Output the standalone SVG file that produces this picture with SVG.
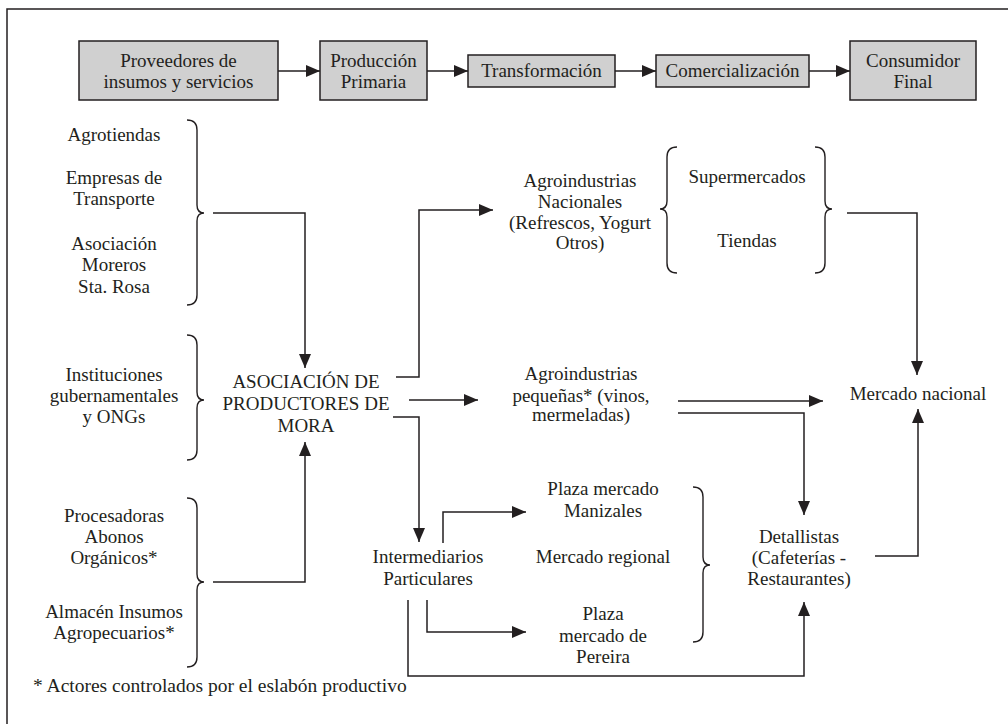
<svg xmlns="http://www.w3.org/2000/svg" width="1008" height="724" viewBox="0 0 1008 724" font-family="'Liberation Serif', 'Times New Roman', Times, 'DejaVu Serif', serif">
<defs>
<style>
text{font-family:'Liberation Serif','Times New Roman',Times,'DejaVu Serif',serif;font-size:19px;fill:#231f20;text-anchor:middle}
.box{fill:#d0d0d0;stroke:#231f20;stroke-width:1.5}
.ln{fill:none;stroke:#231f20;stroke-width:1.5}
.br{fill:none;stroke:#231f20;stroke-width:1.4}
</style>
<marker id="ah" markerUnits="userSpaceOnUse" markerWidth="14" markerHeight="12" refX="14" refY="6" orient="auto">
<path d="M0,0 L14,6 L0,12 z" fill="#231f20"/>
</marker>
</defs>
<rect width="1008" height="724" fill="#fff"/>
<path class="ln" d="M7,724 V9 H1008"/>

<g id="n-proveedores"><rect class="box" x="79" y="41" width="199" height="59"/><text x="178.5" y="67">Proveedores de</text><text x="178.5" y="88">insumos y servicios</text></g>
<g id="n-produccion"><rect class="box" x="320" y="41" width="107" height="59"/><text x="373.5" y="67">Producción</text><text x="373.5" y="88">Primaria</text></g>
<g id="n-transformacion"><rect class="box" x="468" y="55" width="147" height="32"/><text x="541.5" y="77">Transformación</text></g>
<g id="n-comercializacion"><rect class="box" x="656" y="55" width="153" height="32"/><text x="732.5" y="77">Comercialización</text></g>
<g id="n-consumidor"><rect class="box" x="850" y="41" width="126" height="59"/><text x="913" y="67">Consumidor</text><text x="913" y="88">Final</text></g>

<g id="n-grupo1"><text x="114" y="141">Agrotiendas</text><text x="114" y="184">Empresas de</text><text x="114" y="205">Transporte</text><text x="114" y="250">Asociación</text><text x="114" y="271">Moreros</text><text x="114" y="293">Sta. Rosa</text>
<path class="br" d="M187,120 Q197,120 197,130 V205 Q197,213 204,213 Q197,213 197,221 V295 Q197,305 187,305"/></g>
<g id="n-grupo2"><text x="114" y="381">Instituciones</text><text x="114" y="402">gubernamentales</text><text x="114" y="423">y ONGs</text>
<path class="br" d="M187,335 Q197,335 197,345 V392 Q197,400 204,400 Q197,400 197,408 V450 Q197,460 187,460"/></g>
<g id="n-grupo3"><text x="114" y="522">Procesadoras</text><text x="114" y="543">Abonos</text><text x="114" y="564">Orgánicos*</text><text x="114" y="618">Almacén Insumos</text><text x="114" y="639">Agropecuarios*</text>
<path class="br" d="M187,498 Q197,498 197,508 V574 Q197,582 204,582 Q197,582 197,590 V657 Q197,667 187,667"/></g>

<g id="n-asociacion"><text x="306" y="388">ASOCIACIÓN DE</text><text x="306" y="410">PRODUCTORES DE</text><text x="306" y="432">MORA</text></g>

<g id="n-agro-nacionales"><text x="580" y="187">Agroindustrias</text><text x="580" y="208">Nacionales</text><text x="580" y="229">(Refrescos, Yogurt</text><text x="580" y="249">Otros)</text></g>
<g id="n-super"><text x="747" y="183">Supermercados</text><text x="747" y="247">Tiendas</text>
<path class="br" d="M677,147 Q667,147 667,157 V201 Q667,209 660,209 Q667,209 667,217 V263 Q667,273 677,273"/>
<path class="br" d="M815,147 Q825,147 825,157 V201 Q825,209 832,209 Q825,209 825,217 V263 Q825,273 815,273"/></g>
<g id="n-agro-pequenas"><text x="581" y="380">Agroindustrias</text><text x="581" y="402">pequeñas* (vinos,</text><text x="581" y="421">mermeladas)</text></g>
<g id="n-mercado-nacional"><text x="918" y="400">Mercado nacional</text></g>
<g id="n-intermediarios"><text x="428" y="563">Intermediarios</text><text x="428" y="585">Particulares</text></g>
<g id="n-regional"><text x="603" y="495">Plaza mercado</text><text x="603" y="517">Manizales</text><text x="603" y="563">Mercado regional</text><text x="603" y="620">Plaza</text><text x="603" y="642">mercado de</text><text x="603" y="663">Pereira</text>
<path class="br" d="M693,487 Q703,487 703,497 V557 Q703,565 710,565 Q703,565 703,573 V632 Q703,642 693,642"/></g>
<g id="n-detallistas"><text x="799" y="543">Detallistas</text><text x="799" y="564">(Cafeterías -</text><text x="799" y="585">Restaurantes)</text></g>
<g id="n-nota"><text x="33" y="692" style="text-anchor:start;font-size:19.5px">* Actores controlados por el eslabón productivo</text></g>

<g id="connectors" class="ln">
<path class="ln" d="M278,71 H320" marker-end="url(#ah)"/>
<path class="ln" d="M427,71 H468" marker-end="url(#ah)"/>
<path class="ln" d="M615,71 H656" marker-end="url(#ah)"/>
<path class="ln" d="M809,71 H850" marker-end="url(#ah)"/>
<path class="ln" d="M213,213 H305 V368" marker-end="url(#ah)"/>
<path class="ln" d="M213,582 H305 V442" marker-end="url(#ah)"/>
<path class="ln" d="M396,377 H419 V210 H493" marker-end="url(#ah)"/>
<path class="ln" d="M409,400 H478" marker-end="url(#ah)"/>
<path class="ln" d="M393,417 H419 V542" marker-end="url(#ah)"/>
<path class="ln" d="M847,213 H917 V375" marker-end="url(#ah)"/>
<path class="ln" d="M678,401 H823" marker-end="url(#ah)"/>
<path class="ln" d="M678,413 H804 V515" marker-end="url(#ah)"/>
<path class="ln" d="M443,543 V512 H526" marker-end="url(#ah)"/>
<path class="ln" d="M427,600 V632 H526" marker-end="url(#ah)"/>
<path class="ln" d="M408,600 V676 H804 V602" marker-end="url(#ah)"/>
<path class="ln" d="M875,556 H918 V409" marker-end="url(#ah)"/>
</g>
</svg>
